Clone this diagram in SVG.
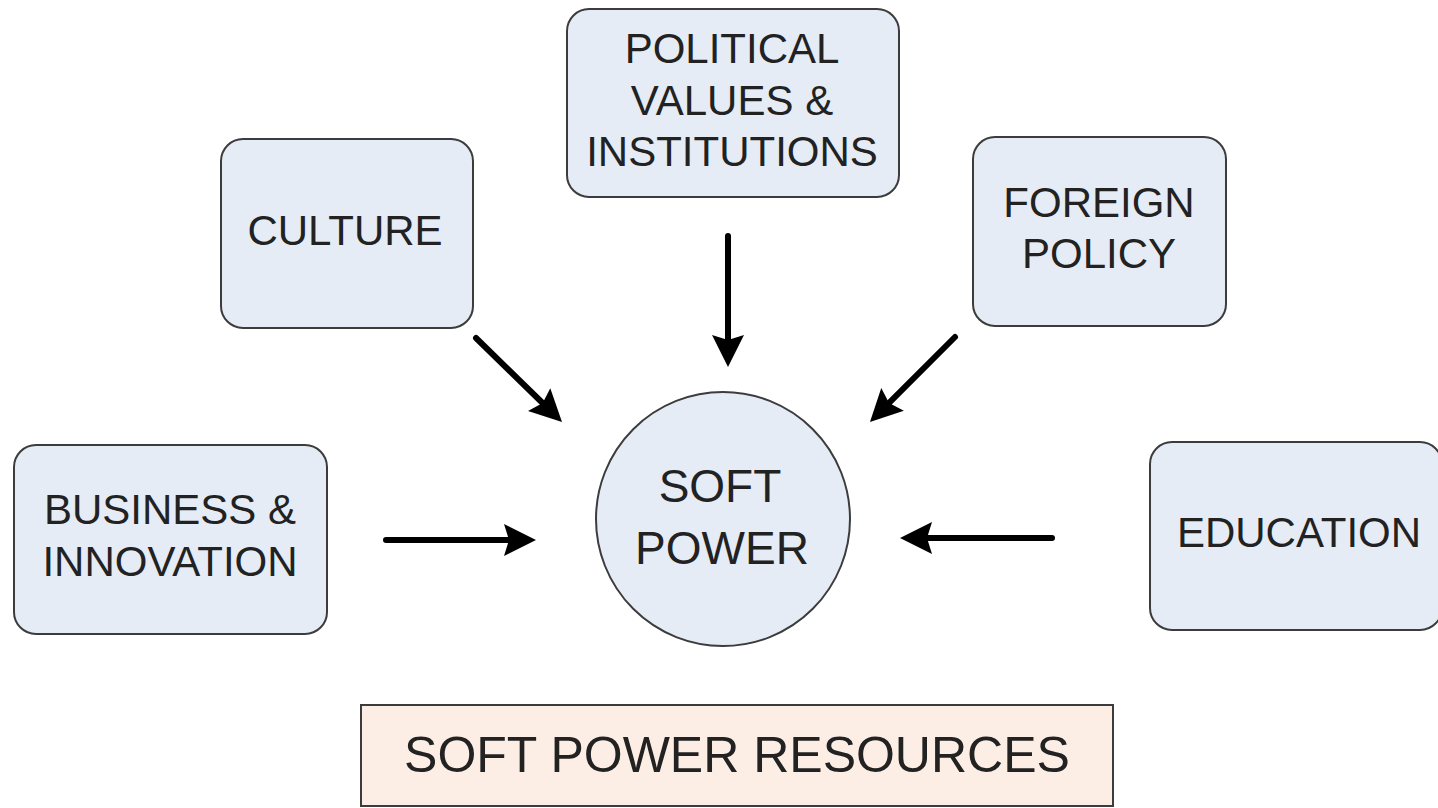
<svg xmlns="http://www.w3.org/2000/svg" width="1438" height="808" viewBox="0 0 1438 808">
<style>
.node{fill:#e6ecf6;stroke:#3c3c3c;stroke-width:2}
.res{fill:#fdeee5;stroke:#3c3c3c;stroke-width:2}
.lbl{font-family:"Liberation Sans",Arial,sans-serif;font-size:42px;fill:#222;text-anchor:middle}
.big{font-size:46px}
.title{font-size:50px}
.conn{stroke:#000;stroke-width:6;stroke-linecap:round;fill:none;marker-end:url(#ah)}
</style>
<defs>
<marker id="ah" markerUnits="userSpaceOnUse" markerWidth="34" markerHeight="34" refX="12" refY="16" orient="auto" viewBox="0 0 34 32">
<path d="M0,0 L32,16 L0,32 L5,16 Z" fill="#000"/>
</marker>
</defs>
<rect width="1438" height="808" fill="#fff"/>
<g id="political">
<rect class="node" x="567" y="9" width="332" height="188" rx="22"/>
<text class="lbl" x="732" y="63">POLITICAL</text>
<text class="lbl" x="732" y="115">VALUES &amp;</text>
<text class="lbl" x="732" y="166">INSTITUTIONS</text>
</g>
<g id="culture">
<rect class="node" x="221" y="139" width="252" height="189" rx="22"/>
<text class="lbl" x="345" y="245">CULTURE</text>
</g>
<g id="foreign">
<rect class="node" x="973" y="137" width="253" height="189" rx="22"/>
<text class="lbl" x="1099" y="217">FOREIGN</text>
<text class="lbl" x="1099" y="268">POLICY</text>
</g>
<g id="business">
<rect class="node" x="14" y="445" width="313" height="189" rx="22"/>
<text class="lbl" x="170" y="524">BUSINESS &amp;</text>
<text class="lbl" x="170" y="576">INNOVATION</text>
</g>
<g id="education">
<rect class="node" x="1150" y="442" width="292" height="188" rx="22"/>
<text class="lbl" x="1299" y="547">EDUCATION</text>
</g>
<g id="softpower">
<circle class="node" cx="723" cy="519" r="127"/>
<text class="lbl big" x="720" y="502">SOFT</text>
<text class="lbl big" x="722" y="564">POWER</text>
</g>
<g id="resources">
<rect class="res" x="361" y="705" width="752" height="101"/>
<text class="lbl title" x="737" y="772">SOFT POWER RESOURCES</text>
</g>
<g id="connectors">
<line class="conn" x1="728" y1="236" x2="728" y2="347"/>
<line class="conn" x1="476" y1="338" x2="547.7" y2="408"/>
<line class="conn" x1="955" y1="337" x2="884.1" y2="407.9"/>
<line class="conn" x1="386" y1="540" x2="516" y2="540"/>
<line class="conn" x1="1052" y1="538" x2="920" y2="538"/>
</g>
</svg>
